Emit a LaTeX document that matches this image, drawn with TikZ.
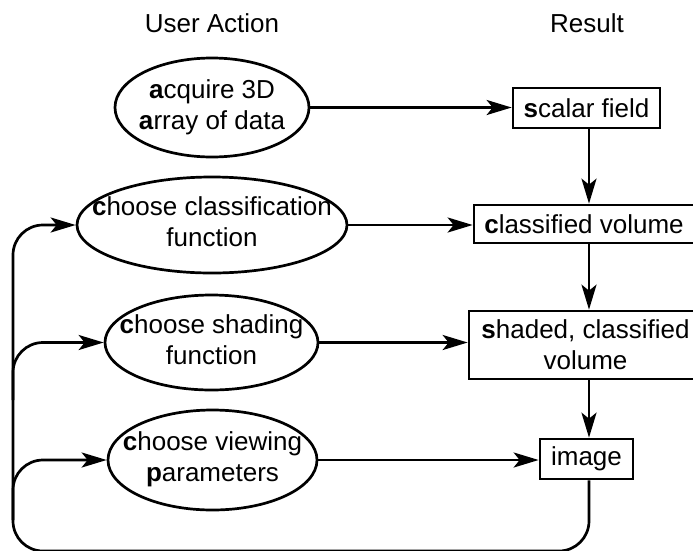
\documentclass[tikz,border=0pt]{standalone}
\usepackage{fontspec}
\setmainfont{Liberation Sans}
\usetikzlibrary{shapes.geometric,arrows.meta}
\begin{document}
\begin{tikzpicture}[x=1pt,y=-1pt,line width=2.7pt,
  every node/.style={font=\fontsize{26}{31}\selectfont},
  arr/.style={-{Stealth[length=25pt,width=15pt,inset=6pt]}},
  act/.style={ellipse,draw,inner sep=0pt,line width=2.7pt},
  res/.style={rectangle,draw,inner sep=0pt,align=center,line width=2.7pt},
  hdr/.style={anchor=base}]
\useasboundingbox (0,0) rectangle (693,550);
% headers
\node[hdr] (h1) at (212,32) {User Action};
\node[hdr] (h2) at (587,32) {Result};
% actions
\node[act,minimum width=194pt,minimum height=99pt] (e1) at (212,107.5)
  {\makebox[0pt]{\begin{tabular}{@{}c@{}}\textbf{a}cquire 3D\\\textbf{a}rray of data\end{tabular}}};
\node[act,minimum width=270pt,minimum height=96pt] (e2) at (212,225)
  {\makebox[0pt]{\begin{tabular}{@{}c@{}}\textbf{c}hoose classification\\function\end{tabular}}};
\node[act,minimum width=213pt,minimum height=95pt] (e3) at (211.5,342.5)
  {\makebox[0pt]{\begin{tabular}{@{}c@{}}\textbf{c}hoose shading\\function\end{tabular}}};
\node[act,minimum width=209pt,minimum height=100pt] (e4) at (212.5,460)
  {\makebox[0pt]{\begin{tabular}{@{}c@{}}\textbf{c}hoose viewing\\\textbf{p}arameters\end{tabular}}};
% results
\node[res,minimum width=147pt,minimum height=40pt] (sf) at (586.5,108) {\textbf{s}calar field};
\node[res,minimum width=220pt,minimum height=38pt] (cv) at (584,224) {\textbf{c}lassified volume};
\node[res,minimum width=233pt,minimum height=68pt] (sb) at (585.5,345) {\textbf{s}haded, classified\\volume};
\node[res,minimum width=93pt,minimum height=40pt] (im) at (586.5,459) {image};
% horizontal arrows
\draw[arr] (e1.east) -- (e1.east -| sf.west);
\draw[arr] (e2.east) -- (e2.east -| cv.west);
\draw[arr] (e3.east) -- (e3.east -| sb.west);
\draw[arr] (e4.east) -- (e4.east -| im.west);
% vertical arrows
\coordinate (vx) at (589,0);
\draw[arr] (sf.south -| vx) -- (cv.north -| vx);
\draw[arr] (cv.south -| vx) -- (sb.north -| vx);
\draw[arr] (sb.south -| vx) -- (im.north -| vx);
% feedback loop
\coordinate (br) at (589,551);
\coordinate (bl) at (13,551);
\coordinate (tl) at (13,225);
\draw[arr,rounded corners=30pt] (im.south -| vx) -- (br) -- (bl) -- (tl) -- (e2.west);
\coordinate (b3) at (13,400);
\coordinate (c3) at (13,342.5);
\draw[arr,rounded corners=30pt] (b3) -- (c3) -- (e3.west);
\coordinate (b4) at (13,520);
\coordinate (c4) at (13,460);
\draw[arr,rounded corners=30pt] (b4) -- (c4) -- (e4.west);
\end{tikzpicture}
\end{document}
